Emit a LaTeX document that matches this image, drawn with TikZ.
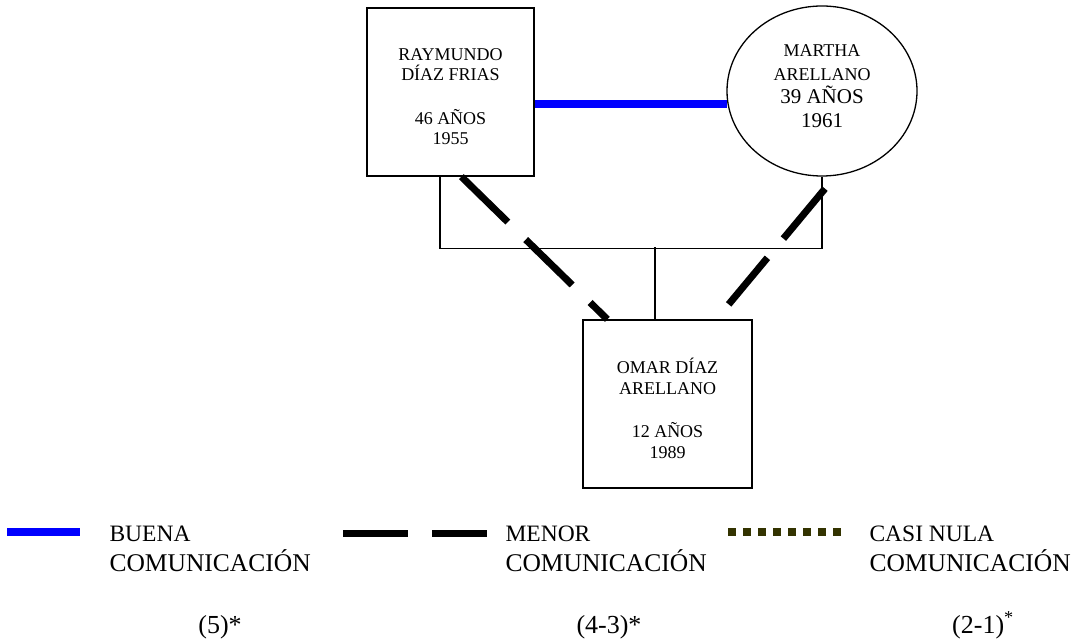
\documentclass[tikz,border=0pt]{standalone}
\usepackage{fontspec}
\setmainfont{Liberation Serif}
\usetikzlibrary{shapes.geometric,calc}
\definecolor{oliva}{RGB}{51,51,0}

\begin{document}
\begin{tikzpicture}[x=1pt,y=-1pt,
    person/.style={draw, line width=1.3pt, inner sep=0pt},
    persontext/.style={align=center, font=\fontsize{18}{20.5}\selectfont},
    tie/.style={line width=1.4pt},
    buena/.style={blue, line width=7.5pt},
    menor/.style={black, line width=7pt, dash pattern=on 65pt off 25pt},
    nula/.style={oliva, line width=8pt, dash pattern=on 8pt off 7pt},
    leyenda/.style={anchor=base west, font=\fontsize{23.5}{26}\selectfont},
    leyendab/.style={anchor=base west, font=\fontsize{25.5}{28}\selectfont},
    nota/.style={anchor=base, font=\fontsize{26}{28}\selectfont}]
    \useasboundingbox (0,0) rectangle (1076,639);

    % familia
    \node[person, minimum width=167pt, minimum height=168pt,
        label={[persontext, yshift=-4.5pt]center:{RAYMUNDO\\DÍAZ FRIAS\\[23pt]46 AÑOS\\1955}}] (ray) at (450.5,92) {};
    \node[person, ellipse, minimum width=190pt, minimum height=170pt,
        label={[persontext, font=\fontsize{18}{23.5}\selectfont, yshift=5pt]center:{MARTHA\\ARELLANO\\{\fontsize{21}{23.5}\selectfont 39 AÑOS}\\{\fontsize{21}{23.5}\selectfont 1961}}}] (mar) at (822,91) {};
    \node[person, minimum width=169pt, minimum height=168pt,
        label={[persontext, yshift=-4.5pt]center:{OMAR DÍAZ\\ARELLANO\\[23pt]12 AÑOS\\1989}}] (omar) at (667.5,404) {};

    \draw[tie] ($(ray.south)+(-10.5,0)$) -- ++(0,72) -| (mar.south);
    \draw[tie] ($(omar.north)+(-12.5,0)$) -- ++(0,-72);

    % comunicacion
    \draw[buena] ($(ray.east)+(0,12)$) -- ($(mar.west)+(1,13)$);
    \draw[menor] ($(ray.south west)+(95,0)$) -- ($(omar.north west)+(25,0)$);
    \draw[menor] ($(mar.south)+(3,12)$) -- ($(omar.north east)+(-24,-15)$);

    % leyenda
    \draw[buena] (7,532) -- (80,532);
    \draw[menor, dash pattern=on 65pt off 24pt] (343,533) -- (487,533);
    \draw[nula] (728,532) -- (847,532);

    \node[leyenda] (buena) at (106,541) {BUENA};
    \node[leyendab] (buenab) at (106,571) {COMUNICACIÓN};
    \node[leyenda] (menor) at (502,541) {MENOR};
    \node[leyendab] (menorb) at (502,571) {COMUNICACIÓN};
    \node[leyenda] (nula) at (866,541) {CASI NULA};
    \node[leyendab] (nulab) at (866,571) {COMUNICACIÓN};

    \node[nota] (n5) at (220,633) {(5)*};
    \node[nota] (n43) at (609,633) {(4-3)*};
    \node[nota] (n21) at (983,633) {(2-1)\textsuperscript{*}};

\end{tikzpicture}
\end{document}
